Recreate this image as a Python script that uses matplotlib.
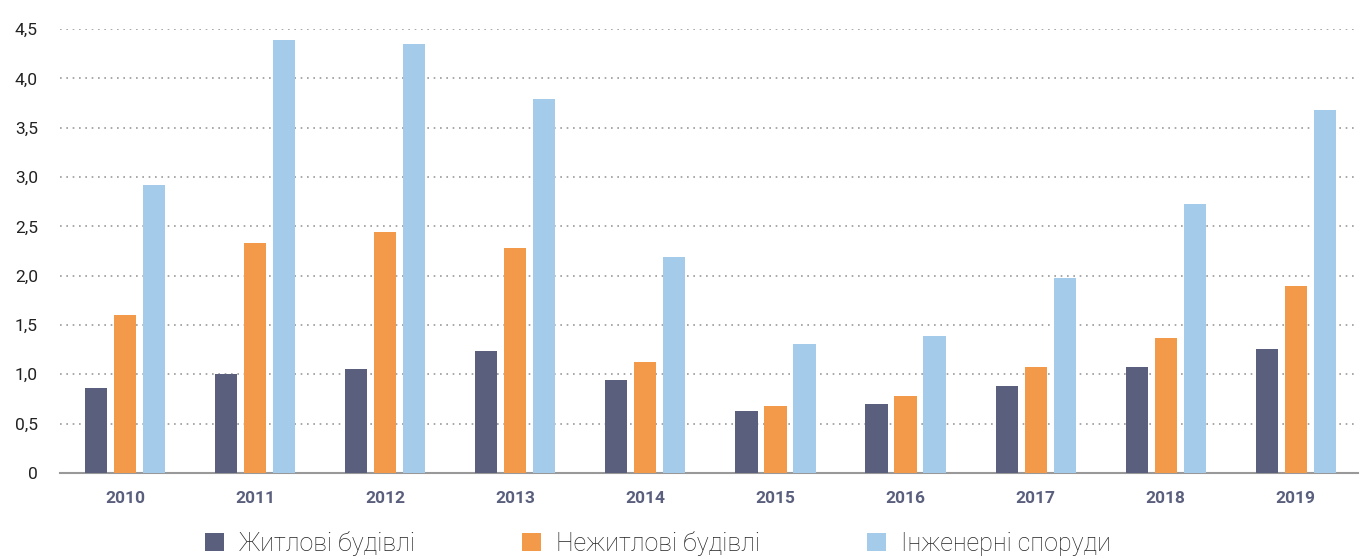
import matplotlib.pyplot as plt
import numpy as np

years = ["2010", "2011", "2012", "2013", "2014", "2015", "2016", "2017", "2018", "2019"]
residential = [0.86, 1.00, 1.05, 1.24, 0.94, 0.63, 0.70, 0.88, 1.07, 1.26]
nonresidential = [1.60, 2.33, 2.44, 2.28, 1.12, 0.68, 0.78, 1.07, 1.37, 1.90]
engineering = [2.92, 4.39, 4.35, 3.79, 2.19, 1.31, 1.39, 1.98, 2.73, 3.68]
labels = ["Житлові будівлі", "Нежитлові будівлі", "Інженерні споруди"]

yticks = [0, 0.5, 1.0, 1.5, 2.0, 2.5, 3.0, 3.5, 4.0, 4.5]
ytick_labels = ["0", "0,5", "1,0", "1,5", "2,0", "2,5", "3,0", "3,5", "4,0", "4,5"]

colors = ["#5a5f7d", "#f2994a", "#a5cbea"]

plt.rcParams['font.family'] = ['Roboto', 'DejaVu Sans']

fig = plt.figure(figsize=(13.65, 5.59), dpi=100)
ax = fig.add_axes([0.044, 0.154, 0.951, 0.794])

x = np.arange(len(years))
w = 0.17
off = 0.223
for i, (vals, c, lab) in enumerate(zip([residential, nonresidential, engineering], colors, labels)):
    ax.bar(x + (i - 1) * off, vals, w, color=c, label=lab, zorder=3)

ax.set_xlim(-0.5, 9.48)
ax.set_ylim(0, 4.5)
ax.set_yticks(yticks)
ax.set_yticklabels(ytick_labels, fontsize=12.5, color="#222222")
ax.set_xticks(x)
ax.set_xticklabels(years, fontsize=12.5, fontweight="bold", color="#5a5f7d")
ax.tick_params(axis="both", length=0)
ax.tick_params(axis="x", pad=13)
ax.tick_params(axis="y", pad=16)

for y in yticks[1:]:
    ax.axhline(y, color="#999999", linestyle=(0, (1, 2.8)), linewidth=1.2, zorder=1)

for s in ["top", "right", "left"]:
    ax.spines[s].set_visible(False)
ax.spines["bottom"].set_color("#999999")
ax.spines["bottom"].set_linewidth(1.5)

leg = fig.legend(loc="lower center", bbox_to_anchor=(0.482, -0.034), ncol=3, frameon=False,
                 fontsize=18, handlelength=0.75, handleheight=0.75, columnspacing=4.3,
                 handletextpad=0.6)
for t in leg.get_texts():
    t.set_fontweight("light")
    t.set_color("#222222")

fig.savefig("out.png", dpi=100)
